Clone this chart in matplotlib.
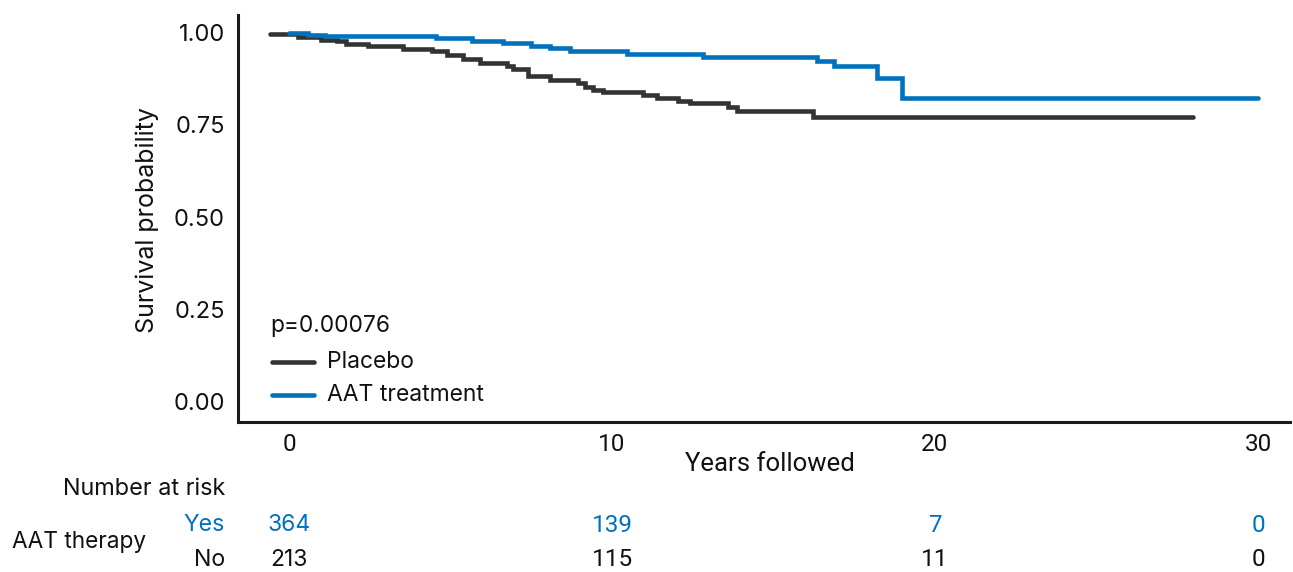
import matplotlib
matplotlib.use('Agg')
import matplotlib.pyplot as plt
from matplotlib.lines import Line2D

# ---------------- data ----------------
placebo_t = [-0.6, 0.28, 0.99, 1.49, 1.76, 2.45, 3.53, 4.43, 4.89, 5.39, 5.91,
             6.75, 6.93, 7.40, 8.08, 8.95, 9.16, 9.41, 9.72, 10.96, 11.39,
             12.04, 12.41, 13.59, 13.87, 16.22]
placebo_s = [0.996, 0.987, 0.981, 0.976, 0.969, 0.963, 0.956, 0.950, 0.939, 0.927,
             0.917, 0.909, 0.900, 0.882, 0.872, 0.862, 0.852, 0.844, 0.838, 0.831,
             0.824, 0.815, 0.808, 0.799, 0.787, 0.770]
placebo_end = 28.0

aat_t = [0.0, 0.59, 1.11, 4.55, 5.67, 6.63, 7.49, 8.08, 8.70, 10.46, 12.82,
         16.35, 16.87, 18.20, 18.98]
aat_s = [1.000, 0.994, 0.990, 0.984, 0.977, 0.972, 0.964, 0.957, 0.951, 0.943,
         0.935, 0.924, 0.908, 0.876, 0.824]
aat_end = 30.0

x_ticks = [0, 10, 20, 30]
y_ticks = [0.00, 0.25, 0.50, 0.75, 1.00]
y_tick_labels = ["0.00", "0.25", "0.50", "0.75", "1.00"]
risk_times = [0, 10, 20, 30]
risk_yes = [364, 139, 7, 0]
risk_no = [213, 115, 11, 0]
p_text = "p=0.00076"
legend_labels = ["Placebo", "AAT treatment"]

BLUE = "#0071BC"
DARK = "#333333"
TXT = "#111111"

# ---------------- layout ----------------
W, H = 1293, 572
fig = plt.figure(figsize=(W / 100, H / 100), dpi=100)
plt.rcParams['font.family'] = ['Inter', 'DejaVu Sans']

ax_l, ax_r, ax_t, ax_b = 238, 1290, 15, 422
ax = fig.add_axes([ax_l / W, 1 - ax_b / H, (ax_r - ax_l) / W, (ax_b - ax_t) / H])

px_per_year = 32.3
x0px = 289
ax.set_xlim((ax_l - x0px) / px_per_year, (ax_r - x0px) / px_per_year)
y0px, py_per_unit = 402, 369.5
ax.set_ylim((y0px - ax_b) / py_per_unit, (y0px - ax_t) / py_per_unit)

LW = 3.3
ax.step(placebo_t + [placebo_end], placebo_s + [placebo_s[-1]], where='post',
        color=DARK, lw=LW, solid_capstyle='round', solid_joinstyle='miter', zorder=3)
ax.step(aat_t + [aat_end], aat_s + [aat_s[-1]], where='post',
        color=BLUE, lw=LW, solid_capstyle='round', solid_joinstyle='miter', zorder=4)

for side in ['top', 'right']:
    ax.spines[side].set_visible(False)
for side in ['left', 'bottom']:
    ax.spines[side].set_linewidth(2.2)
    ax.spines[side].set_color('#1a1a1a')

ax.set_xticks(x_ticks)
ax.set_xticklabels([str(v) for v in x_ticks], fontfamily='Roboto', fontsize=17.5, color=TXT)
ax.set_yticks(y_ticks)
ax.set_yticklabels(y_tick_labels, fontsize=17, color=TXT)
ax.tick_params(axis='x', length=0, pad=8)
ax.tick_params(axis='y', length=0, pad=9.5)


def fx(px):
    return px / W


def fy(py):
    return 1 - py / H


# axis labels
fig.text(fx(147), fy(220), "Survival probability", fontsize=18, color=TXT,
         rotation=90, va='center', ha='center')
fig.text(fx(770), fy(464), "Years followed", fontfamily='Roboto', fontsize=18.5,
         color=TXT, va='center', ha='center')

# p-value and legend
fig.text(fx(270), fy(326), p_text, fontsize=16.4, color=TXT, va='center', ha='left')
for i, (lab, col) in enumerate(zip(legend_labels, [DARK, BLUE])):
    yy = [362, 395][i]
    fig.add_artist(Line2D([fx(272), fx(314)], [fy(yy), fy(yy)], color=col, lw=LW,
                          solid_capstyle='round', transform=fig.transFigure))
    fig.text(fx(327), fy(yy), lab, fontsize=16.5, color=TXT, va='center', ha='left')

# risk table
fig.text(fx(225), fy(489), "Number at risk", fontsize=16.9, color=TXT, va='center', ha='right')
fig.text(fx(225), fy(525), "Yes", fontsize=16.7, color=BLUE, va='center', ha='right')
fig.text(fx(225), fy(560), "No", fontsize=16.7, color=TXT, va='center', ha='right')
fig.text(fx(12), fy(542), "AAT therapy", fontsize=16.3, color=TXT, va='center', ha='left')
for t, ny, nn in zip(risk_times, risk_yes, risk_no):
    xpx = x0px + t * px_per_year
    fam = 'Inter' if t == 0 else 'Roboto'
    fs = 16.5 if t == 0 else 17.5
    fig.text(fx(xpx), fy(525), str(ny), fontsize=fs, color=BLUE, va='center', ha='center',
             fontfamily=fam)
    fig.text(fx(xpx), fy(560), str(nn), fontsize=fs, color=TXT, va='center', ha='center',
             fontfamily=fam)

fig.savefig("out.png", dpi=100)
